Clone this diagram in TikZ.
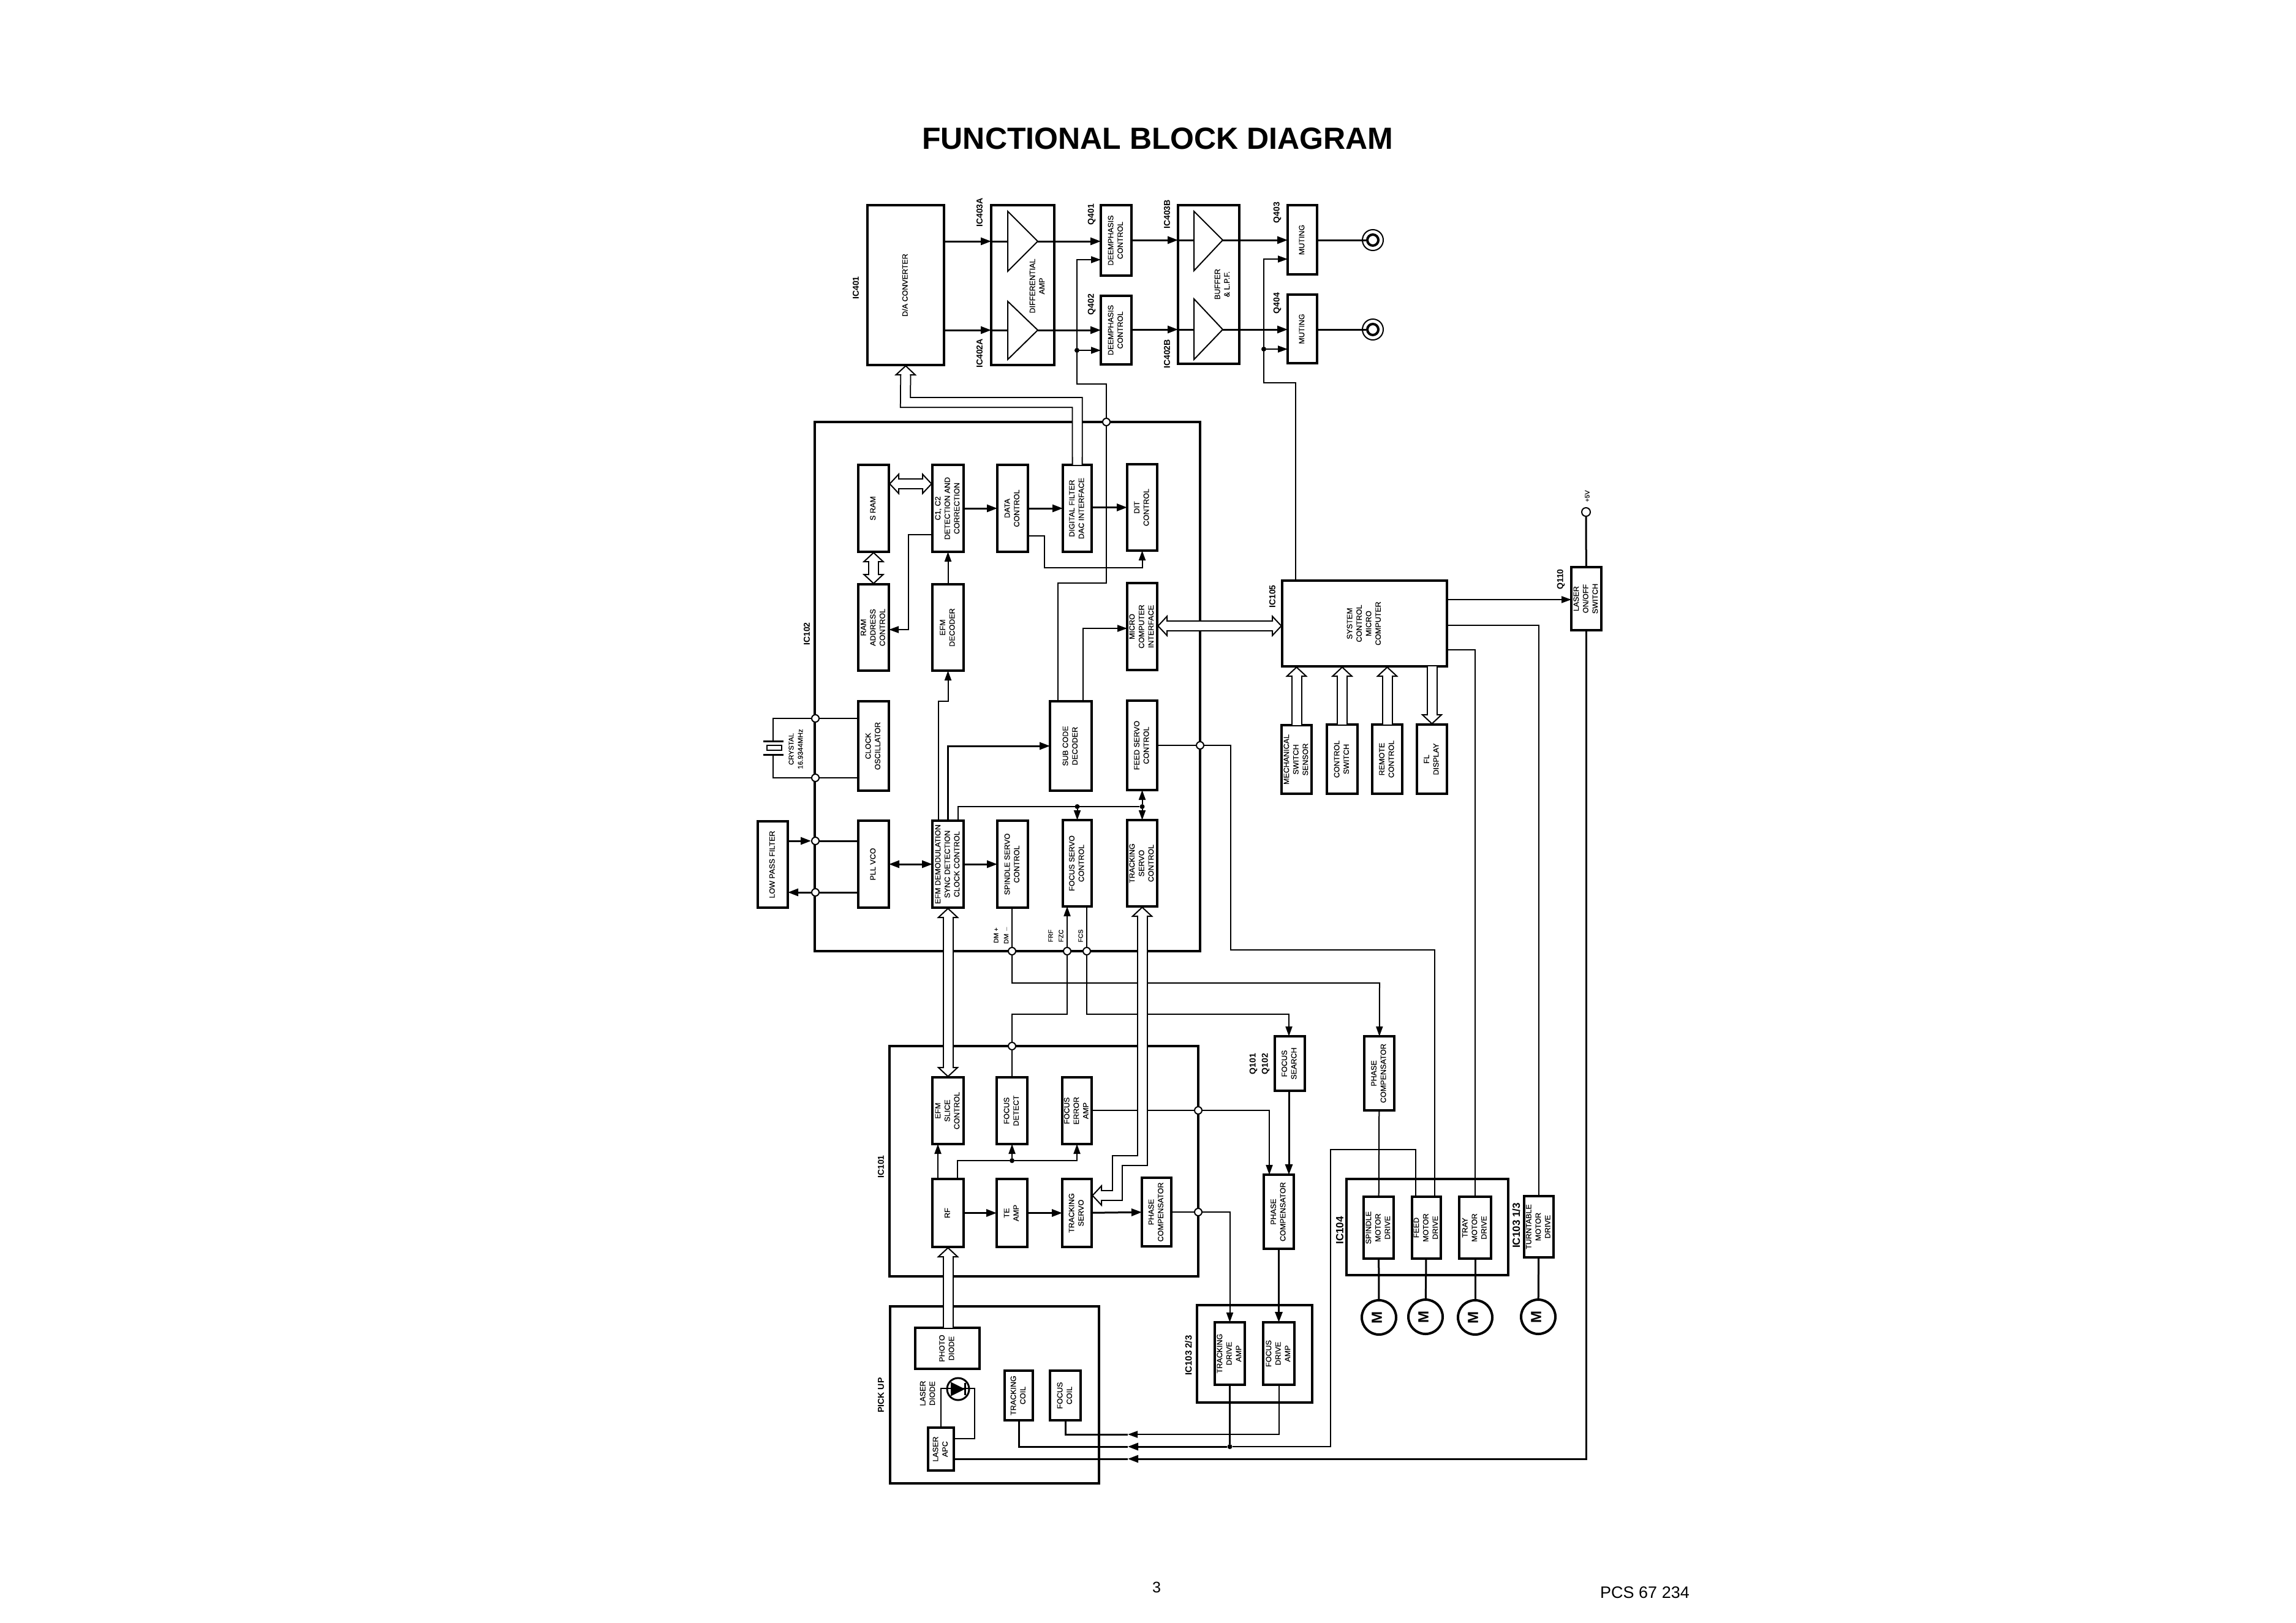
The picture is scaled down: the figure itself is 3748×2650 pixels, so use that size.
\documentclass[tikz,border=0pt]{standalone}
\usepackage{fontspec}
\usepackage{graphicx}
\setmainfont{Liberation Sans}
\newfontfamily\blockfam[FakeBold=0.35]{Liberation Sans}
\usetikzlibrary{arrows.meta}
\newcommand{\blockfont}{\blockfam\fontsize{12.5}{15.5}\selectfont}
\newcommand{\vtext}[1]{\rotatebox{90}{\begin{tabular}{@{}c@{}}#1\end{tabular}}}
\newcommand{\busrun}[2]{\draw[busline,#1] #2; \draw[buscore] #2;}
\tikzset{
  blockbox/.style 2 args={draw,line width=4pt,fill=white,inner sep=0pt,outer sep=0pt,
    font=\blockfont,minimum width={#1pt-4pt},minimum height={#2pt-4pt}},
  framebox/.style 2 args={draw,line width=4pt,inner sep=0pt,outer sep=0pt,
    minimum width={#1pt},minimum height={#2pt}},
  tap/.style={circle,draw,fill=white,line width=2pt,inner sep=0pt,minimum size=12pt},
  blackdot/.style={circle,fill=black,inner sep=0pt,minimum size=8pt},
  motornode/.style={circle,draw,line width=4pt,fill=white,inner sep=0pt,minimum size=56pt,
    font=\bfseries\fontsize{24}{24}\selectfont},
  partlabel/.style={rotate=90,inner sep=0pt,font=\bfseries\fontsize{14}{14}\selectfont},
  biglabel/.style={rotate=90,inner sep=0pt,font=\bfseries\fontsize{17}{17}\selectfont},
  pinlabel/.style={rotate=90,inner sep=0pt,font=\blockfam\fontsize{10.5}{10.5}\selectfont},
  boxlabel/.style={rotate=90,inner sep=0pt,align=center,font=\blockfont},
  wire/.style={line width=3pt,>={Triangle[length=17pt,width=12pt]},line join=miter},
  thinwire/.style={line width=2pt,>={Triangle[length=16pt,width=11pt]},line join=miter},
  ampline/.style={line width=2pt,line join=miter},
  busline/.style={double,double distance=14pt,line width=2pt,line join=miter,
    >={Triangle[open,fill=white,length=17pt,width=36pt,line width=2pt]}},
  buscore/.style={white,line width=14pt,shorten >=13pt,shorten <=13pt},
}
\begin{document}
\begin{tikzpicture}[x=1pt,y=-1pt]
      \useasboundingbox (0,0) rectangle (3748,2650);
      \node[inner sep=0pt,font=\bfseries\fontsize{50}{50}\selectfont] (title) at (1890,226) {FUNCTIONAL BLOCK DIAGRAM};
      \node[inner sep=0pt,font=\fontsize{25}{25}\selectfont] (pageno) at (1888,2592) {3};
      \node[inner sep=0pt,font=\fontsize{27}{27}\selectfont] (docno) at (2685,2600) {PCS 67 234};
      % chip outlines
      \node[framebox={629}{864}] (ic102) at (1644.5,1121) {};
      \node[framebox={504}{376}] (ic101) at (1704,1896) {};
      \node[framebox={264}{157}] (ic104) at (2330,2003.5) {};
      \node[framebox={341}{289}] (pickup) at (1623.5,2277.5) {};
      \node[framebox={188}{159}] (ic103) at (2048,2210.5) {};
      % audio output stage
      \node[blockbox={129}{265}] (dac) at (1478.5,465.5) {\vtext{D/A CONVERTER}};
      \node[blockbox={107}{265}] (diffamp) at (1669.5,465.5) {};
      \node[blockbox={54}{119}] (q401) at (1822,392.5) {\vtext{DEEMPHASIS\\CONTROL}};
      \node[blockbox={54}{116}] (q402) at (1822,539) {\vtext{DEEMPHASIS\\CONTROL}};
      \node[blockbox={104}{263}] (buffer) at (1973,464.5) {};
      \node[blockbox={52}{117}] (q403) at (2126,391.5) {\vtext{MUTING}};
      \node[blockbox={52}{116}] (q404) at (2126,537) {\vtext{MUTING}};
      % IC102
      \node[blockbox={54}{146}] (sram) at (1426,830) {\vtext{S RAM}};
      \node[blockbox={55}{146}] (cdet) at (1547.5,830) {\vtext{C1, C2\\DETECTION AND\\CORRECTION}};
      \node[blockbox={54}{146}] (datactl) at (1653,830) {\vtext{DATA\\CONTROL}};
      \node[blockbox={51}{146}] (digfilter) at (1758.5,830) {\vtext{DIGITAL FILTER\\DAC INTERFACE}};
      \node[blockbox={53}{145}] (ditctl) at (1864.5,828.5) {\vtext{DIT\\CONTROL}};
      \node[blockbox={54}{145}] (ramaddr) at (1426,1024.5) {\vtext{RAM\\ADDRESS\\CONTROL}};
      \node[blockbox={55}{145}] (efmdec) at (1547.5,1024.5) {\vtext{EFM\\DECODER}};
      \node[blockbox={53}{146}] (micif) at (1864.5,1023) {\vtext{MICRO\\COMPUTER\\INTERFACE}};
      \node[blockbox={54}{150}] (clkosc) at (1426,1218) {\vtext{CLOCK\\OSCILLATOR}};
      \node[blockbox={72}{150}] (subcode) at (1748,1218) {\vtext{SUB CODE\\DECODER}};
      \node[blockbox={53}{150}] (feedservo) at (1864.5,1217) {\vtext{FEED SERVO\\CONTROL}};
      \node[blockbox={53}{145}] (lowpass) at (1261.5,1411.5) {\vtext{LOW PASS FILTER}};
      \node[blockbox={54}{146}] (pllvco) at (1426,1411) {\vtext{PLL VCO}};
      \node[blockbox={55}{146}] (efmdemod) at (1547.5,1411) {\vtext{EFM DEMODULATION\\SYNC DETECTION\\CLOCK CONTROL}};
      \node[blockbox={54}{146}] (spinservo) at (1653,1411) {\vtext{SPINDLE SERVO\\CONTROL}};
      \node[blockbox={51}{145}] (focservo) at (1758.5,1409.5) {\vtext{FOCUS SERVO\\CONTROL}};
      \node[blockbox={53}{145}] (trkservo) at (1864.5,1409.5) {\vtext{TRACKING\\SERVO\\CONTROL}};
      % system control
      \node[blockbox={273}{144}] (ic105) at (2227.5,1018) {\vtext{SYSTEM\\CONTROL\\MICRO\\COMPUTER}};
      \node[blockbox={53}{107}] (q110) at (2589.5,977.5) {\vtext{LASER\\ON/OFF\\SWITCH}};
      \node[blockbox={53}{116}] (mechsw) at (2116.5,1240) {\vtext{MECHANICAL\\SWITCH\\SENSOR}};
      \node[blockbox={54}{117}] (ctlsw) at (2191,1239.5) {\vtext{CONTROL\\SWITCH}};
      \node[blockbox={53}{117}] (remote) at (2264.5,1239.5) {\vtext{REMOTE\\CONTROL}};
      \node[blockbox={53}{117}] (fldisp) at (2337.5,1239.5) {\vtext{FL\\DISPLAY}};
      % IC101
      \node[blockbox={55}{113}] (slice) at (1547.5,1813.5) {\vtext{EFM\\SLICE\\CONTROL}};
      \node[blockbox={54}{113}] (focdet) at (1652,1813.5) {\vtext{FOCUS\\DETECT}};
      \node[blockbox={52}{113}] (focerr) at (1758,1813.5) {\vtext{FOCUS\\ERROR\\AMP}};
      \node[blockbox={55}{115}] (rfamp) at (1547.5,1980.5) {\vtext{RF}};
      \node[blockbox={54}{115}] (teamp) at (1652,1980.5) {\vtext{TE\\AMP}};
      \node[blockbox={52}{115}] (trksv) at (1758,1980.5) {\vtext{TRACKING\\SERVO}};
      \node[blockbox={52}{116}] (phcomp) at (1888,1979) {\vtext{PHASE\\COMPENSATOR}};
      % servo drivers and motors
      \node[blockbox={53}{93}] (focsearch) at (2105.5,1736.5) {\vtext{FOCUS\\SEARCH}};
      \node[blockbox={53}{125}] (phcompb) at (2087.5,1978.5) {\vtext{PHASE\\COMPENSATOR}};
      \node[blockbox={53}{125}] (phcompc) at (2251.5,1752.5) {\vtext{PHASE\\COMPENSATOR}};
      \node[blockbox={53}{105}] (spindrv) at (2250.5,2004.5) {\vtext{SPINDLE\\MOTOR\\DRIVE}};
      \node[blockbox={51}{105}] (feeddrv) at (2328.5,2004.5) {\vtext{FEED\\MOTOR\\DRIVE}};
      \node[blockbox={56}{105}] (traydrv) at (2408,2004.5) {\vtext{TRAY\\MOTOR\\DRIVE}};
      \node[blockbox={52}{104}] (turndrv) at (2512,2003) {\vtext{TURNTABLE\\MOTOR\\DRIVE}};
      \node[motornode] (mota) at (2251,2151) {\vtext{M}};
      \node[motornode] (motb) at (2327,2150) {\vtext{M}};
      \node[motornode] (motc) at (2408,2151) {\vtext{M}};
      \node[motornode] (motd) at (2511,2150) {\vtext{M}};
      \node[blockbox={53}{106}] (trkdrv) at (2007.5,2210) {\vtext{TRACKING\\DRIVE\\AMP}};
      \node[blockbox={55}{106}] (focdrv) at (2087.5,2210) {\vtext{FOCUS\\DRIVE\\AMP}};
      % pick up
      \node[blockbox={109}{71}] (photod) at (1546.5,2201.5) {\vtext{PHOTO\\DIODE}};
      \node[blockbox={50}{85}] (trkcoil) at (1663,2278.5) {\vtext{TRACKING\\COIL}};
      \node[blockbox={54}{85}] (foccoil) at (1739,2278.5) {\vtext{FOCUS\\COIL}};
      \node[blockbox={46}{74}] (laserapc) at (1536,2366) {\vtext{LASER\\APC}};
      \node[circle,draw,line width=3pt,inner sep=0pt,minimum size=36pt] (ldiode) at (1564,2268) {};
      \draw[ampline,fill=black] (1553,2258) -- (1573,2268) -- (1553,2278) -- cycle;
      \draw[wire] (1575,2258) -- (1575,2278);
      % part numbers and captions
      \node[partlabel] (lic401) at (1397,470) {IC401};
      \node[partlabel] (lic403a) at (1599,347) {IC403A};
      \node[partlabel] (lic402a) at (1599,577) {IC402A};
      \node[partlabel] (lq401) at (1782,350) {Q401};
      \node[partlabel] (lq402) at (1782,497) {Q402};
      \node[partlabel] (lic403b) at (1905,350) {IC403B};
      \node[partlabel] (lic402b) at (1905,578) {IC402B};
      \node[partlabel] (lq403) at (2085,347) {Q403};
      \node[partlabel] (lq404) at (2085,495) {Q404};
      \node[partlabel] (lic102) at (1317,1035) {IC102};
      \node[partlabel] (lic105) at (2077,974) {IC105};
      \node[partlabel] (lq110) at (2548,946) {Q110};
      \node[partlabel] (lic101) at (1438,1905) {IC101};
      \node[partlabel] (lq101) at (2046,1737) {Q101};
      \node[partlabel] (lq102) at (2066,1737) {Q102};
      \node[partlabel] (lpickup) at (1438,2278) {PICK UP};
      \node[partlabel,font=\bfseries\fontsize{15}{15}\selectfont] (lic103b) at (1940,2213) {IC103 2/3};
      \node[biglabel] (lic104) at (2187,2009) {IC104};
      \node[biglabel] (lic103a) at (2475,2001) {IC103 1/3};
      \node[boxlabel] (ldiff) at (1693,467) {DIFFERENTIAL\\AMP};
      \node[boxlabel] (lbuf) at (1995,464) {BUFFER\\\& L.P.F.};
      \node[boxlabel,font=\blockfam\fontsize{11.5}{15}\selectfont] (lxtal) at (1299,1223) {CRYSTAL\\16.9344MHz};
      \node[boxlabel] (llaser) at (1514,2275) {LASER\\DIODE};
      \node[pinlabel] (ldmp) at (1626,1527) {DM +};
      \node[pinlabel] (ldmm) at (1643,1527) {DM $-$};
      \node[pinlabel] (lfrf) at (1715,1528) {FRF};
      \node[pinlabel] (lfzc) at (1732,1528) {FZC};
      \node[pinlabel] (lfcs) at (1764,1528) {FCS};
      \node[pinlabel] (lplus) at (2591,810) {+5V};
      % junctions on the chip outlines
      \node[tap] (tapa) at (1806,689) {};
      \node[tap] (tapclka) at (1331,1173) {};
      \node[tap] (tapclkb) at (1331,1270) {};
      \node[tap] (taplpa) at (1331,1373) {};
      \node[tap] (taplpb) at (1331,1457) {};
      \node[tap] (tapfeed) at (1959,1217) {};
      \node[tap] (tapdm) at (1652,1553) {};
      \node[tap] (tapfrf) at (1742,1553) {};
      \node[tap] (tapfcs) at (1774,1553) {};
      \node[tap] (tapdet) at (1652,1708) {};
      \node[tap] (tapfe) at (1956,1813) {};
      \node[tap] (tappc) at (1956,1979) {};
      \node[tap,minimum size=14pt] (plus) at (2589,836) {};
      \node[blackdot] (dotq) at (1758,572) {};
      \node[blackdot] (dotm) at (2063,570) {};
      \node[blackdot] (dotfb) at (1864.5,1317) {};
      \node[blackdot] (dotfoc) at (1758.5,1317) {};
      \node[blackdot] (dotrf) at (1652,1895) {};
      \node[blackdot] (dottrk) at (2007.5,2362) {};
      % outputs and amplifiers
      \coordinate (ampain) at (1645,394);
      \coordinate (ampaout) at (1694,394);
      \coordinate (ampbin) at (1645,539);
      \coordinate (ampbout) at (1694,539);
      \coordinate (bufain) at (1949,392);
      \coordinate (bufaout) at (1996,392);
      \coordinate (bufbin) at (1949,538);
      \coordinate (bufbout) at (1996,538);
      \draw[ampline] (ampain |- 0,345) -- (ampaout) -- (ampain |- 0,443) -- cycle;
      \draw[ampline] (ampbin |- 0,492) -- (ampbout) -- (ampbin |- 0,587) -- cycle;
      \draw[ampline] (bufain |- 0,345) -- (bufaout) -- (bufain |- 0,442) -- cycle;
      \draw[ampline] (bufbin |- 0,488) -- (bufbout) -- (bufbin |- 0,587) -- cycle;
      \node[circle,draw,line width=2pt,inner sep=0pt,minimum size=34pt] (jacka) at (2241,392) {};
      \node[circle,draw,line width=4pt,inner sep=0pt,minimum size=18pt] (jackai) at (2241,392) {};
      \node[circle,draw,line width=2pt,inner sep=0pt,minimum size=34pt] (jackb) at (2241,538) {};
      \node[circle,draw,line width=4pt,inner sep=0pt,minimum size=18pt] (jackbi) at (2241,538) {};
      \draw[wire,->] (dac.east |- ampain) -- (diffamp.west |- ampain);
      \draw[wire,->] (dac.east |- ampbin) -- (diffamp.west |- ampbin);
      \draw[wire] (diffamp.west |- ampain) -- (ampain);
      \draw[wire] (diffamp.west |- ampbin) -- (ampbin);
      \draw[wire,->] (ampaout) -- (q401.west |- ampaout);
      \draw[wire,->] (ampbout) -- (q402.west |- ampbout);
      \draw[wire,->] (q401.east |- bufain) -- (buffer.west |- bufain);
      \draw[wire,->] (q402.east |- bufbin) -- (buffer.west |- bufbin);
      \draw[wire] (buffer.west |- bufain) -- (bufain);
      \draw[wire] (buffer.west |- bufbin) -- (bufbin);
      \draw[wire,->] (bufaout) -- (q403.west |- bufaout);
      \draw[wire,->] (bufbout) -- (q404.west |- bufbout);
      \draw[wire] (q403.east |- jacka) -- (jackai);
      \draw[wire] (q404.east |- jackb) -- (jackbi);
      % control lines
      \draw[thinwire,->] (tapa) |- (1758,627) |- (q401.west |- 0,424);
      \draw[thinwire,->] (dotq) -- (q402.west |- dotq);
      \draw[thinwire] (tapa) |- (1727,952) -- (subcode.north -| 1727,0);
      \draw[thinwire,->] (subcode.north -| 1768,0) |- (micif.west |- 0,1026);
      \draw[thinwire,->] (ic105.north -| 2115,0) |- (2063,625) |- (q403.west |- 0,423);
      \draw[thinwire,->] (dotm) -- (q404.west |- dotm);
      \draw[wire,->] (cdet) -- (datactl);
      \draw[wire,->] (datactl) -- (digfilter);
      \draw[wire,->] (digfilter.east |- ditctl) -- (ditctl);
      \draw[thinwire,->] (datactl.east |- 0,875) -- (1705,875) -- (1705,927) -| (ditctl.south);
      \draw[thinwire,->] (cdet.west |- 0,873) -- (1483,873) |- (ramaddr.east |- 0,1028);
      \draw[thinwire,->] (efmdec) -- (cdet);
      \draw[thinwire,->] (efmdemod.north -| 1532,0) |- (1547.5,1145) -- (efmdec);
      \draw[wire,->] (efmdemod) |- (subcode);
      \draw[thinwire] (efmdemod.north -| 1564,0) |- (dotfb);
      \draw[thinwire,->] (dotfb) -- (feedservo);
      \draw[thinwire,->] (dotfb) -- (trkservo);
      \draw[thinwire,->] (dotfoc) -- (focservo);
      \draw[wire,<->] (pllvco) -- (efmdemod);
      \draw[wire,->] (efmdemod) -- (spinservo);
      % clock and PLL around the chip edge
      \draw[thinwire] (tapclka) -- (clkosc.west |- tapclka);
      \draw[thinwire] (tapclkb) -- (clkosc.west |- tapclkb);
      \coordinate (xtala) at (1262,1210);
      \coordinate (xtalb) at (1262,1232);
      \node[draw,line width=2pt,inner sep=0pt,minimum width=24pt,minimum height=8pt] (xtal) at (1264,1221) {};
      \draw[wire] (1246,1210) -- (1279,1210);
      \draw[wire] (1246,1232) -- (1279,1232);
      \draw[thinwire] (tapclka) -| (xtala);
      \draw[thinwire] (tapclkb) -| (xtalb);
      \draw[wire,->] (lowpass.east |- taplpa) -- (taplpa);
      \draw[wire,->] (taplpb) -- (lowpass.east |- taplpb);
      \draw[wire] (taplpa) -- (pllvco.west |- taplpa);
      \draw[wire] (taplpb) -- (pllvco.west |- taplpb);
      % servo lines below IC102
      \draw[thinwire] (spinservo.south -| tapdm) -- (tapdm);
      \draw[thinwire,->] (tapdm) |- (2252,1605) -- (phcompc);
      \draw[thinwire,->] (tapfrf) -- (focservo.south -| tapfrf);
      \draw[thinwire] (tapfrf) |- (1652,1656) -- (tapdet);
      \draw[thinwire] (tapdet) -- (focdet.north);
      \draw[thinwire] (focservo.south -| tapfcs) -- (tapfcs);
      \draw[thinwire,->] (tapfcs) |- (2104,1656) -- (focsearch.north -| 2104,0);
      \draw[wire,->] (focsearch.south -| 2104,0) -- (phcompb.north -| 2104,0);
      \draw[thinwire] (focerr.east |- tapfe) -- (tapfe);
      \draw[thinwire,->] (tapfe) -| (phcompb.north -| 2072,0);
      \draw[thinwire] (phcomp) -- (tappc);
      \draw[thinwire,->] (tappc) -| (trkdrv);
      \draw[wire,->] (phcompb.south) -- (focdrv);
      \draw[thinwire,->] (rfamp.north -| 1531,0) -- (slice.south -| 1531,0);
      \draw[thinwire] (rfamp.north -| 1563,0) |- (dotrf);
      \draw[thinwire,->] (dotrf) -| (focerr);
      \draw[thinwire,->] (dotrf) -- (focdet);
      \draw[wire,->] (rfamp) -- (teamp);
      \draw[wire,->] (teamp) -- (trksv);
      \draw[wire,->] (trksv) -- (phcomp);
      % system control to the drives
      \draw[thinwire,->] (ic105.east |- 0,979) -- (q110.west |- 0,979);
      \draw[thinwire] (ic105.east |- 0,1021) -| (turndrv);
      \draw[thinwire] (ic105.east |- 0,1061) -| (traydrv);
      \draw[wire] (plus) -- (q110);
      \draw[thinwire] (feedservo.east |- tapfeed) -- (tapfeed);
      \draw[thinwire] (tapfeed) -- (2009,1217) -- (2009,1551) -- (2342,1551) -- (feeddrv.north -| 2342,0);
      \draw[thinwire] (phcompc) -- (spindrv);
      \draw[thinwire] (feeddrv.north -| 2311,0) |- (2172,1877) |- (dottrk);
      \draw[wire] (spindrv) -- (mota);
      \draw[wire] (feeddrv) -- (motb);
      \draw[wire] (traydrv) -- (motc);
      \draw[wire] (turndrv) -- (motd);
      % lines into the pick up
      \coordinate (pfocin) at (1841,2342);
      \coordinate (ptrkin) at (1841,2362);
      \coordinate (plasin) at (1841,2382);
      \draw[wire] (trkdrv) -- (dottrk);
      \draw[wire,->] (dottrk) -- (ptrkin);
      \draw[wire] (ptrkin) -| (trkcoil);
      \draw[thinwire,->] (focdrv) |- (pfocin);
      \draw[wire] (pfocin) -| (foccoil);
      \draw[wire,->] (q110) |- (plasin);
      \draw[wire] (plasin) -- (laserapc.east |- plasin);
      \draw[thinwire] (laserapc.north) |- (1591,2267) -- (1591,2349) -- (laserapc.east |- 0,2349);
      % data buses
      \busrun{->}{(digfilter.north) |- (1478,657) -- (dac.south)}
      \busrun{<->}{(sram.east |- 0,790) -- (cdet.west |- 0,790)}
      \busrun{<->}{(sram.south) -- (ramaddr.north)}
      \busrun{<->}{(micif.east |- 0,1022) -- (ic105.west |- 0,1022)}
      \busrun{->}{(mechsw.north) -- (ic105.south -| mechsw.north)}
      \busrun{->}{(ctlsw.north) -- (ic105.south -| ctlsw.north)}
      \busrun{->}{(remote.north) -- (ic105.south -| remote.north)}
      \busrun{->}{(ic105.south -| fldisp.north) -- (fldisp.north)}
      \busrun{<->}{(efmdemod.south) -- (slice.north)}
      \busrun{->}{(rfamp.south |- photod.north) -- (rfamp.south)}
      \busrun{<->}{(trkservo.south) |- (1824,1895) |- (trksv.east |- 0,1952)}
    \end{tikzpicture}
\end{document}
